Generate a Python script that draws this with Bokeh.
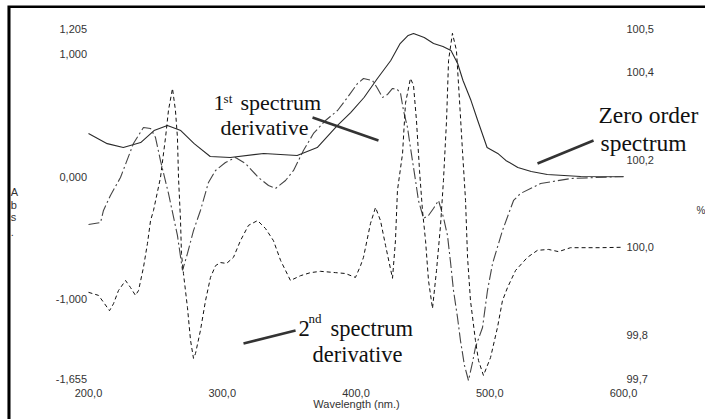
from bokeh.plotting import figure
from bokeh.models import Range1d, Label, PolyAnnotation
from bokeh.core.properties import value
from bokeh.embed import file_html
from bokeh.resources import INLINE

# ---- data ----
# zero order spectrum (Abs, left scale)
zero_wl = [200, 214, 226, 239, 249, 259, 269, 279, 291, 306, 331, 356, 371, 386, 396, 406,
           416, 426, 433, 439, 443, 451, 458, 465, 471, 476, 480, 486, 491, 498, 506, 512,
           521, 531, 543, 568, 600]
zero_abs = [0.353, 0.270, 0.238, 0.279, 0.377, 0.418, 0.377, 0.270, 0.165, 0.157, 0.190, 0.173,
            0.238, 0.418, 0.524, 0.647, 0.802, 0.949, 1.088, 1.154, 1.170, 1.137, 1.088, 1.064,
            1.031, 0.925, 0.786, 0.622, 0.459, 0.239, 0.190, 0.133, 0.075, 0.042, 0.018, 0.002, 0.0]

# 1st spectrum derivative (left scale)
d1_wl = [200, 209.0, 211.2, 216.4, 223.9, 233.6, 241.1, 246.4, 250.1, 253.8, 259.8, 266.5,
         270.3, 274.0, 278.5, 283.7, 289.7, 295.0, 302.4, 309.9, 317.4, 327.1, 334.6, 339.8,
         347.3, 353.3, 360.7, 368.2, 377.2, 386.2, 393.6, 401.1, 405.6, 412.3, 416.1, 419.8,
         423.6, 427.3, 431.0, 433.3, 435.5, 438.5, 440.7, 444.5, 446.7, 450.5, 454.2, 457.9,
         461.7, 465.4, 468.4, 470.7, 472.9, 475.9, 478.1, 481.1, 484.1, 487.1, 489.3, 494.6,
         498.3, 502.1, 509.5, 517.8, 523.0, 538.0, 560.4, 600]
d1_val = [-0.391, -0.374, -0.276, -0.153, -0.007, 0.271, 0.402, 0.394, 0.320, 0.132, -0.137,
          -0.480, -0.766, -0.627, -0.440, -0.276, -0.047, 0.051, 0.116, 0.157, 0.108, -0.007,
          -0.072, -0.096, -0.031, 0.051, 0.214, 0.353, 0.459, 0.541, 0.647, 0.761, 0.802, 0.786,
          0.721, 0.647, 0.672, 0.721, 0.712, 0.680, 0.541, 0.402, 0.239, -0.031, -0.194, -0.341,
          -0.317, -0.260, -0.194, -0.333, -0.480, -0.701, -0.930, -1.150, -1.338, -1.542, -1.665,
          -1.518, -1.395, -1.232, -0.930, -0.709, -0.440, -0.194, -0.137, -0.056, -0.015, 0.002]

# 2nd spectrum derivative (% right scale)
d2_wl = [200, 207.5, 212.0, 215.7, 218.7, 222.4, 227.7, 231.4, 235.1, 237.4, 241.1, 244.1,
         246.4, 248.6, 253.8, 257.6, 259.8, 262.8, 265.0, 266.5, 267.3, 268.8, 269.5, 271.0,
         274.0, 276.3, 278.5, 280.0, 283.7, 287.5, 291.2, 295.0, 298.7, 303.2, 308.4, 313.6,
         319.6, 326.4, 332.3, 338.3, 343.6, 351.0, 358.5, 366.0, 373.5, 384.7, 392.1, 399.6,
         403.4, 405.6, 410.8, 414.6, 418.3, 422.1, 427.3, 429.5, 431.0, 434.8, 437.0, 440.7,
         443.0, 445.2, 447.5, 449.7, 452.0, 454.2, 457.2, 460.2, 463.2, 465.4, 467.7, 469.2,
         472.1, 475.1, 477.4, 479.6, 481.9, 483.4, 485.6, 489.3, 491.6, 495.3, 500.6, 505.8,
         509.5, 513.3, 519.3, 528.2, 535.7, 543.9, 551.4, 560.4, 582.8, 600]
d2_val = [99.897, 99.890, 99.871, 99.855, 99.871, 99.901, 99.924, 99.908, 99.890, 99.901, 99.954,
          100.009, 100.061, 100.084, 100.159, 100.251, 100.313, 100.363, 100.313, 100.251, 100.159,
          100.061, 99.986, 99.940, 99.862, 99.787, 99.746, 99.757, 99.810, 99.878, 99.931, 99.958,
          99.965, 99.963, 99.977, 100.015, 100.050, 100.061, 100.043, 100.015, 99.970, 99.924,
          99.935, 99.942, 99.945, 99.942, 99.940, 99.931, 99.958, 99.977, 100.054, 100.091,
          100.061, 100.004, 99.929, 100.015, 100.130, 100.214, 100.329, 100.386, 100.370, 100.290,
          100.175, 100.084, 100.015, 99.924, 99.860, 99.947, 100.050, 100.153, 100.290, 100.427,
          100.489, 100.450, 100.335, 100.221, 100.107, 99.977, 99.878, 99.787, 99.741, 99.707,
          99.748, 99.817, 99.878, 99.908, 99.947, 99.977, 99.993, 99.995, 99.990, 99.999, 99.999,
          100.000]

x_ticks = [200, 300, 400, 500, 600]
x_tick_labels = ["200,0", "300,0", "400,0", "500,0", "600,0"]
left_ticks = [-1.655, -1.0, 0.0, 1.0, 1.205]
left_tick_labels = ["-1,655", "-1,000", "0,000", "1,000", "1,205"]
right_ticks = [99.7, 99.8, 100.0, 100.2, 100.4, 100.5]
right_tick_labels = ["99,7", "99,8", "100,0", "100,2", "100,4", "100,5"]

# annotation pointer lines (wavelength, Abs)
ptr_x0 = [367.5, 535.7, 315.9]
ptr_y0 = [0.484, 0.108, -1.363]
ptr_x1 = [416.8, 577.6, 354.8]
ptr_y1 = [0.296, 0.296, -1.257]

TICK_FONT = "Liberation Sans"
ANN_FONT = "Liberation Serif"
TXT = "#333333"

# the plotting frame spans the whole scanned picture; scales put 200..600 nm at the data area
p = figure(width=705, height=419, output_backend="svg", toolbar_location=None,
           x_range=Range1d(134.206, 661.308), y_range=Range1d(-1.98366, 1.43954),
           x_axis_type=None, y_axis_type=None,
           min_border=0, background_fill_color="white", border_fill_color="white")
p.outline_line_color = None
p.grid.visible = False
p.extra_y_ranges = {"pct": Range1d(99.6063, 100.564)}

# tick labels, placed through the scales
X_LAB_Y = -1.7712      # just below the data area
LEFT_LAB_X = 198.9     # just left of 200 nm
RIGHT_LAB_X = 602.2    # just right of 600 nm
p.text(x=x_ticks, y=[X_LAB_Y] * len(x_ticks), text=x_tick_labels,
       text_font=value(TICK_FONT), text_font_size="11px", text_color=TXT,
       text_align="center", text_baseline="middle")
p.text(x=[LEFT_LAB_X] * len(left_ticks), y=left_ticks, text=left_tick_labels,
       text_font=value(TICK_FONT), text_font_size="11px", text_color=TXT,
       text_align="right", text_baseline="middle")
p.text(x=[RIGHT_LAB_X] * len(right_ticks), y=right_ticks, text=right_tick_labels,
       text_font=value(TICK_FONT), text_font_size="11px", text_color=TXT,
       text_align="left", text_baseline="middle", y_range_name="pct")

# curves
p.line(zero_wl, zero_abs, line_color="#2a2a2a", line_width=1.1)
p.line(d1_wl, d1_val, line_color="#444444", line_width=1.1, line_dash="11 3 2 3")
p.line(d2_wl, d2_val, line_color="#111111", line_width=1.0, line_dash="4 3", y_range_name="pct")

# pointer lines
p.segment(ptr_x0, ptr_y0, ptr_x1, ptr_y1, line_color="#333333", line_width=2.6)

def lab(text, x, y, size="22px", font=ANN_FONT, color="#111111", align="left", baseline="alphabetic"):
    p.add_layout(Label(x=x, y=y, text=text, text_font=font, text_font_size=size,
                       text_color=color, text_align=align, text_baseline=baseline))

# 1st derivative note
lab("1", 293.5, 0.605)
lab("st", 301.0, 0.639, size="13px")
lab("spectrum", 313.6, 0.605)
lab("derivative", 298.7, 0.402)
# 2nd derivative note
lab("2", 357.0, -1.240, size="22.5px")
lab("nd", 364.5, -1.160, size="13px")
lab("spectrum", 380.9, -1.240, size="22.5px")
lab("derivative", 367.5, -1.453, size="22.5px")
# zero order note
lab("Zero order", 581.3, 0.500, size="23.5px")
lab("spectrum", 582.8, 0.279, size="23.5px")

# axis titles
lab("Wavelength (nm.)", 400.4, -1.861, size="11px", font=TICK_FONT, color=TXT,
    align="center", baseline="middle")
for t, yy in zip(["A", "b", "s", "."], [-0.121, -0.235, -0.333, -0.448]):
    lab(t, 141.8, yy, size="11px", font=TICK_FONT, color=TXT)
lab("%", 654.6, -0.276, size="10px", font=TICK_FONT, color=TXT)

# frame lines (left and top edge of the scanned figure)
p.add_layout(PolyAnnotation(xs=[139.4, 139.4, 662.0, 662.0, 141.7, 141.7],
                            ys=[-2.1, 1.3987, 1.3987, 1.3783, 1.3783, -2.1],
                            fill_color="black", fill_alpha=1.0, line_color=None))

open("out.html", "w").write(file_html(p, INLINE))
